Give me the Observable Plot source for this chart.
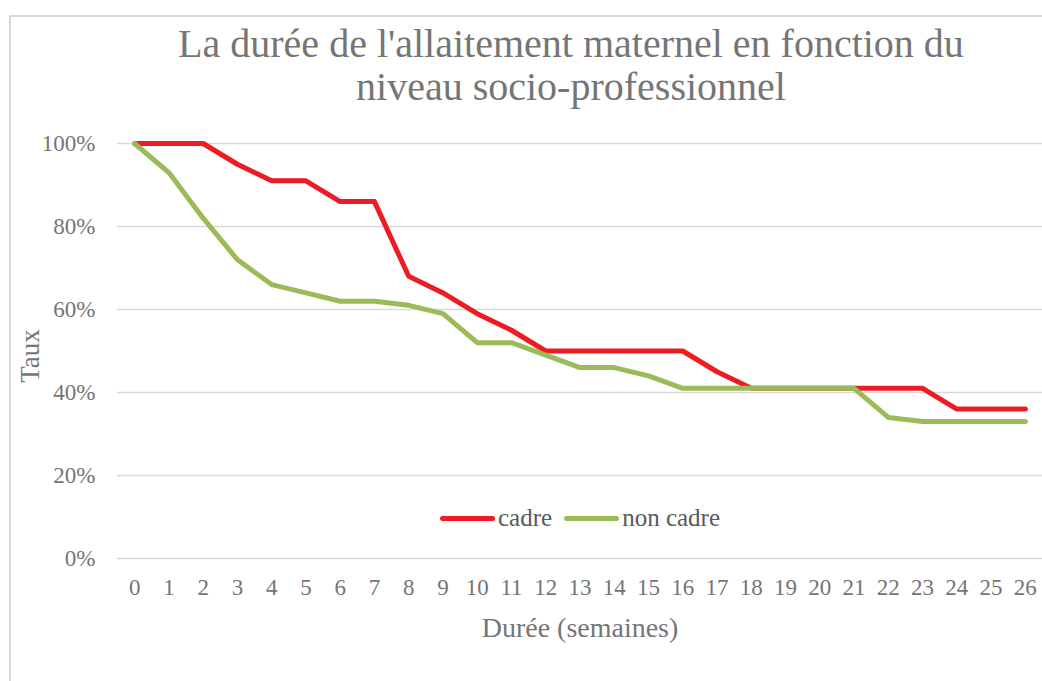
<!DOCTYPE html>
<html>
<head>
<meta charset="utf-8">
<script src="https://cdn.jsdelivr.net/npm/d3@7"></script>
<script src="https://cdn.jsdelivr.net/npm/@observablehq/plot@0.6"></script>
<style>
  html, body { margin: 0; padding: 0; background: #fff; }
  #frame { position: relative; width: 1042px; height: 681px; overflow: hidden; font-family: "Liberation Serif", serif; }
  #border { position: absolute; left: 9px; top: 15px; width: 1100px; height: 700px; border-left: 2px solid #d9d9d9; border-top: 2px solid #d9d9d9; box-sizing: border-box; }
  #title { position: absolute; left: 0; top: 22px; width: 1142px; text-align: center; font-size: 40px; line-height: 43px; color: #757575; }
  #chart { position: absolute; left: 0; top: 110px; }
  #legend { position: absolute; top: 504px; left: 440px; display: flex; align-items: center; font-size: 25px; color: #595959; }
  .sw { display: inline-block; width: 55px; height: 5px; border-radius: 3px; margin-right: 3px; }
  .item { display: flex; align-items: center; margin-right: 12px; }
</style>
</head>
<body>
<div id="frame">
  <div id="border"></div>
  <div id="title">La durée de l'allaitement maternel en fonction du<br>niveau socio-professionnel</div>
  <div id="chart"></div>
  <div id="legend"></div>
</div>
<script>
const weeks = d3.range(0, 27);
const cadre = [100, 100, 100, 95, 91, 91, 86, 86, 68, 64, 59, 55, 50, 50, 50, 50, 50, 45, 41, 41, 41, 41, 41, 41, 36, 36, 36];
const nonCadre = [100, 93, 82, 72, 66, 64, 62, 62, 61, 59, 52, 52, 49, 46, 46, 44, 41, 41, 41, 41, 41, 41, 34, 33, 33, 33, 33];
const seriesNames = ["cadre", "non cadre"];
const seriesColors = ["#ED1C24", "#9BBB59"];
const yTicks = [0, 0.2, 0.4, 0.6, 0.8, 1];
const xLabel = "Durée (semaines)";
const yLabel = "Taux";

const rows = [];
weeks.forEach((w, i) => {
  rows.push({week: w, value: cadre[i] / 100, serie: seriesNames[0]});
  rows.push({week: w, value: nonCadre[i] / 100, serie: seriesNames[1]});
});

const chart = Plot.plot({
  width: 1042,
  height: 571,
  marginLeft: 117,
  marginRight: 0,
  marginTop: 33,
  marginBottom: 123,
  style: {fontFamily: "Liberation Serif, serif", background: "transparent", overflow: "visible"},
  x: {domain: [-0.5, 26.5]},
  y: {domain: [0, 1]},
  color: {domain: seriesNames, range: seriesColors},
  marks: [
    Plot.gridY(yTicks, {stroke: "#d9d9d9", strokeOpacity: 1, strokeWidth: 1.5}),
    Plot.axisY(yTicks, {tickSize: 0, tickPadding: 22, tickFormat: d3.format(".0%"), fontSize: 23, fill: "#757575", label: null}),
    Plot.axisX(weeks, {tickSize: 0, tickPadding: 20, fontSize: 23, fill: "#757575", label: null}),
    Plot.text([yLabel], {frameAnchor: "left", textAnchor: "middle", rotate: -90, dx: -87, dy: 5, fontSize: 27, fill: "#757575"}),
    Plot.text([xLabel], {frameAnchor: "bottom", dy: 78, fontSize: 28, fill: "#757575"}),
    Plot.line(rows, {x: "week", y: "value", z: "serie", stroke: "serie", strokeWidth: 5, strokeLinecap: "round", strokeLinejoin: "round"})
  ]
});
document.getElementById("chart").appendChild(chart);

const legend = document.getElementById("legend");
seriesNames.forEach((n, i) => {
  const it = document.createElement("div");
  it.className = "item";
  const sw = document.createElement("span");
  sw.className = "sw";
  sw.style.background = seriesColors[i];
  it.appendChild(sw);
  const t = document.createElement("span");
  t.textContent = n;
  it.appendChild(t);
  legend.appendChild(it);
});
</script>
</body>
</html>
